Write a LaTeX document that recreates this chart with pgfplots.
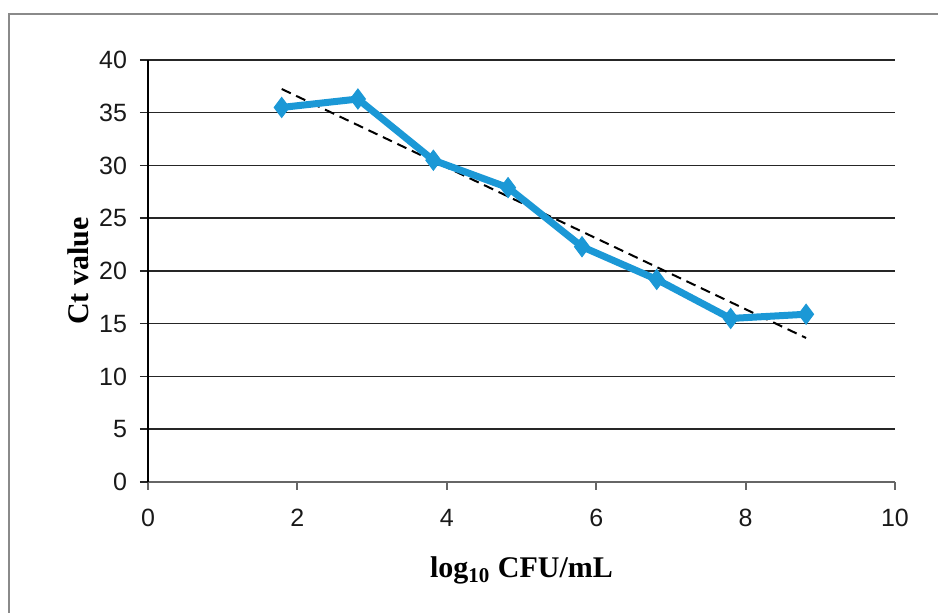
\documentclass[border=0pt]{standalone}
\usepackage{fontspec}
\setmainfont{Liberation Serif}
\setsansfont{Liberation Sans}
\usepackage{pgfplots}
\pgfplotsset{compat=1.18}
\definecolor{lineblue}{HTML}{1B98D6}
\definecolor{framegray}{HTML}{8A8A8A}

\begin{document}
\begin{tikzpicture}
\useasboundingbox (-74pt,-65.5pt) rectangle (395pt,241pt);
\draw[framegray, line width=1pt] (-69.5pt,-90pt) rectangle (420pt,234pt);
\begin{axis}[
  scale only axis,
  width=373.5pt, height=211pt,
  xmin=0, xmax=10, ymin=0, ymax=40,
  xtick={0,2,...,10}, ytick={0,5,...,40},
  axis x line=bottom, axis y line=left,
  axis line style={-},
  x axis line style={black!60, line width=0.9pt},
  y axis line style={black, line width=0.9pt},
  tick align=outside,
  major tick length=4pt,
  xtick style={black!60, line width=0.9pt},
  ytick style={black!85, line width=0.75pt},
  ymajorgrids,
  major grid style={black!85, line width=0.75pt},
  tick label style={font=\sffamily\fontsize{12.5}{14}\selectfont, text=black!90},
  /pgf/number format/assume math mode=true,
  yticklabel style={xshift=-3pt},
  xticklabel style={yshift=-6pt},
  xlabel={log\textsubscript{10} CFU/mL},
  ylabel={Ct value},
  label style={font=\bfseries\fontsize{15}{18}\selectfont},
  xlabel style={at={(axis description cs:0.5,-0.21)}, anchor=center},
  ylabel style={at={(axis description cs:-0.094,0.5)}, anchor=center},
  clip=false,
]
\addplot[black, line width=1pt, dash pattern=on 5pt off 3pt] coordinates {
  (1.79,37.25) (8.81,13.65)
};
\addplot[lineblue, line width=3.5pt, mark=diamond*, mark size=5pt,
  mark options={solid, fill=lineblue, draw=lineblue, line width=0.5pt}] coordinates {
  (1.79,35.5) (2.81,36.3) (3.82,30.5) (4.82,27.9)
  (5.81,22.3) (6.81,19.2) (7.80,15.5) (8.81,15.9)
};
\end{axis}
\end{tikzpicture}
\end{document}
